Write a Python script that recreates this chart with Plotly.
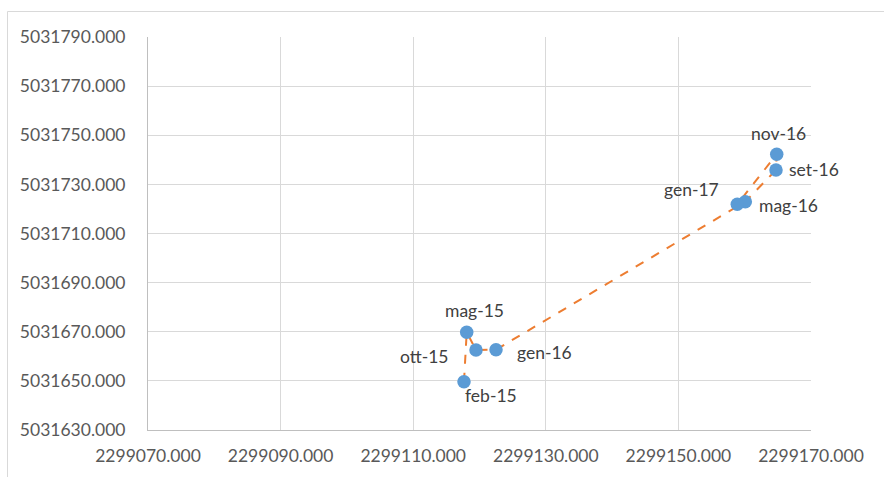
import plotly.graph_objects as go

# Survey track: easting / northing of each monitoring epoch
epochs = ["feb-15", "mag-15", "ott-15", "gen-16", "mag-16", "set-16", "nov-16", "gen-17"]
easting = [2299117.66, 2299118.07, 2299119.47, 2299122.49,
           2299160.09, 2299164.72, 2299164.83, 2299158.88]
northing = [5031649.67, 5031669.78, 5031662.57, 5031662.70,
            5031722.96, 5031735.86, 5031742.26, 5031721.90]

x_ticks = [2299070, 2299090, 2299110, 2299130, 2299150, 2299170]
y_ticks = [5031630 + 20 * i for i in range(9)]

# pixel offsets of each epoch label from its marker
label_shift = {
    "feb-15": (27, -14), "mag-15": (8, 22), "ott-15": (-51, -6),
    "gen-16": (48, -3), "mag-16": (43, -4), "set-16": (38, 0),
    "nov-16": (2, 21), "gen-17": (-46, 15),
}

FONT = "Lato, 'Open Sans', sans-serif"
W, H = 884, 477
L, R, T, B = 148, 73, 37, 47

fig = go.Figure()
fig.add_trace(go.Scatter(
    x=easting, y=northing, mode="lines",
    line=dict(color="#ED7D31", width=2, dash="dash"),
    hoverinfo="skip", showlegend=False,
))
fig.add_trace(go.Scatter(
    x=easting, y=northing, mode="markers", text=epochs,
    marker=dict(color="#5B9BD5", size=13.5),
    showlegend=False,
))

for name, xv, yv in zip(epochs, easting, northing):
    dx, dy = label_shift[name]
    fig.add_annotation(
        x=xv, y=yv, text=name, showarrow=False,
        xanchor="center", yanchor="middle", xshift=dx, yshift=dy,
        font=dict(family=FONT, size=17.5, color="#404040"),
    )

# outer chart frame
pw, ph = W - L - R, H - T - B
fig.add_shape(
    type="rect", xref="paper", yref="paper", layer="below",
    x0=(7.5 - L) / pw, x1=(W + 5 - L) / pw,
    y0=-(B + 5) / ph, y1=(H - B - 11.5) / ph,
    line=dict(color="#D9D9D9", width=1), fillcolor="rgba(0,0,0,0)",
)

axis_common = dict(
    tickformat=".3f", showgrid=True, gridcolor="#D9D9D9", gridwidth=1,
    zeroline=False, showline=True, linecolor="#BFBFBF", linewidth=1,
    ticks="", tickfont=dict(family=FONT, size=17.5, color="#595959"),
)
fig.update_xaxes(range=[x_ticks[0], x_ticks[-1]], tickvals=x_ticks,
                 ticklabelstandoff=10, **axis_common)
fig.update_yaxes(range=[y_ticks[0], y_ticks[-1]], tickvals=y_ticks,
                 ticklabelstandoff=18, **axis_common)

fig.update_layout(
    width=W, height=H,
    margin=dict(l=L, r=R, t=T, b=B, autoexpand=False),
    paper_bgcolor="white", plot_bgcolor="white",
    font=dict(family=FONT),
)

fig.write_html("out.html")
